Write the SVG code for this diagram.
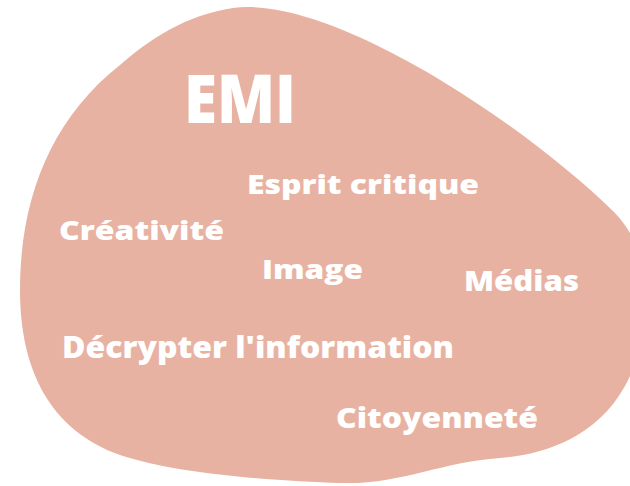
<svg xmlns="http://www.w3.org/2000/svg" width="630" height="486" viewBox="0 0 630 486">
<style>
.t{font-family:"Open Sans","Noto Sans",sans-serif;font-weight:800;fill:#ffffff;}
</style>
<rect width="630" height="486" fill="#ffffff"/>
<g id="blob">
<path d="M 233 8 C 330 -5, 520 120, 615 213 C 660 260, 650 340, 625 386 C 595 440, 540 455, 500 458 C 440 462, 400 485, 340 483 C 280 481, 180 475, 120 455 C 50 430, 20 370, 20 290 C 20 200, 50 120, 120 65 C 160 30, 195 14, 233 8 Z" fill="#E8B2A2"/>
</g>
<g id="title"><text class="t" x="184" y="123" font-size="68" font-weight="600" textLength="112" lengthAdjust="spacingAndGlyphs">EMI</text></g>
<g id="esprit"><text class="t" x="247" y="194" font-size="27" textLength="232" lengthAdjust="spacingAndGlyphs">Esprit critique</text></g>
<g id="creativite"><text class="t" x="59" y="240" font-size="26" textLength="165" lengthAdjust="spacingAndGlyphs">Créativité</text></g>
<g id="image"><text class="t" x="262" y="279" font-size="26" textLength="101" lengthAdjust="spacingAndGlyphs">Image</text></g>
<g id="medias"><text class="t" x="464" y="291" font-size="28" textLength="115" lengthAdjust="spacingAndGlyphs">Médias</text></g>
<g id="decrypter"><text class="t" x="62" y="358" font-size="30" textLength="392" lengthAdjust="spacingAndGlyphs">Décrypter l'information</text></g>
<g id="citoyennete"><text class="t" x="336" y="428" font-size="28" textLength="202" lengthAdjust="spacingAndGlyphs">Citoyenneté</text></g>
</svg>
